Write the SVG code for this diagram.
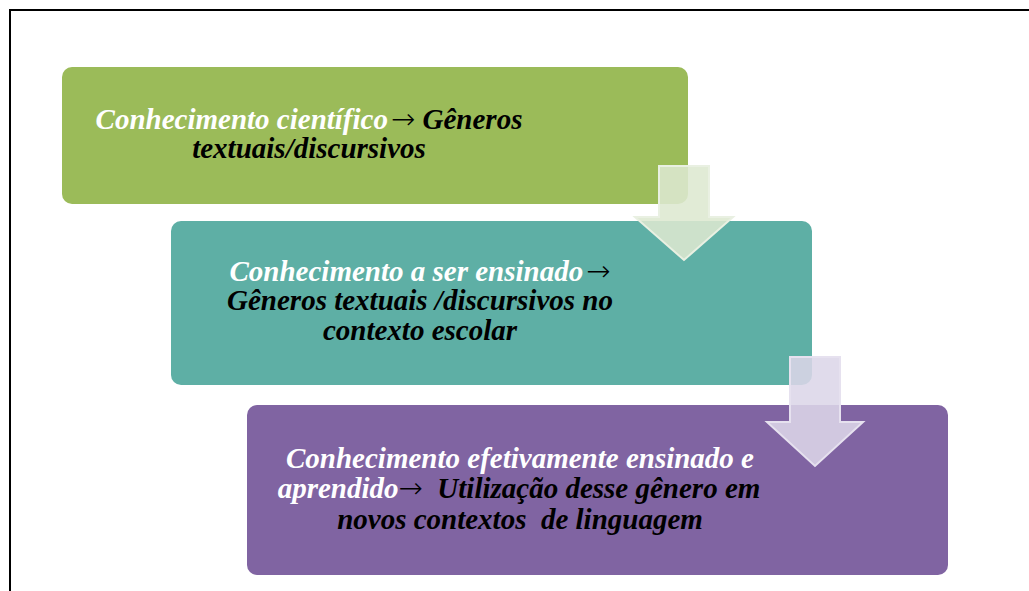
<svg xmlns="http://www.w3.org/2000/svg" width="1029" height="591" viewBox="0 0 1029 591">
<style>
.t{font-family:'Liberation Serif','Times New Roman',serif;font-size:29px;font-weight:700;font-style:italic;text-anchor:middle}
.ar{font-family:'DejaVu Sans',sans-serif;font-weight:200;font-style:normal}
.w{fill:#ffffff}
.k{fill:#000000}
.a1{fill:#dde8d0;fill-opacity:0.88;stroke:#e9f0e2;stroke-width:2}
.a2{fill:#dcd6e8;fill-opacity:0.88;stroke:#e6e1ef;stroke-width:2}
</style>
<rect width="1029" height="591" fill="#ffffff"/>
<path d="M10 591 V10 H1029" fill="none" stroke="#000000" stroke-width="2"/>
<g id="node1">
<rect x="62" y="67" width="626" height="137" rx="10" fill="#9bbb59"/>
<text class="t" x="309" y="129"><tspan class="w">Conhecimento científico</tspan><tspan class="k ar" dx="3">→</tspan><tspan class="k"> Gêneros</tspan></text>
<text class="t k" x="309" y="158">textuais/discursivos</text>
</g>
<g id="node2">
<rect x="171" y="221" width="641" height="164" rx="10" fill="#5eafa5"/>
<text class="t" x="420" y="281"><tspan class="w">Conhecimento a ser ensinado</tspan><tspan class="k ar" dx="3">→</tspan></text>
<text class="t k" x="420" y="310">Gêneros textuais /discursivos no</text>
<text class="t k" x="420" y="340">contexto escolar</text>
</g>
<g id="node3">
<rect x="247" y="405" width="701" height="170" rx="10" fill="#8064a2"/>
<text class="t w" x="520" y="468">Conhecimento efetivamente ensinado e</text>
<text class="t" x="519" y="498" xml:space="preserve"><tspan class="w">aprendido</tspan><tspan class="k ar">→</tspan><tspan class="k">  Utilização desse gênero em</tspan></text>
<text class="t k" x="520" y="529" xml:space="preserve">novos contextos  de linguagem</text>
</g>
<g id="connectors">
<path class="a1" d="M659 166 H709 V217 H733 L684 260 L635 217 H659 Z"/>
<path class="a2" d="M790 357 H840 V422 H863 L815 466 L767 422 H790 Z"/>
</g>
</svg>
